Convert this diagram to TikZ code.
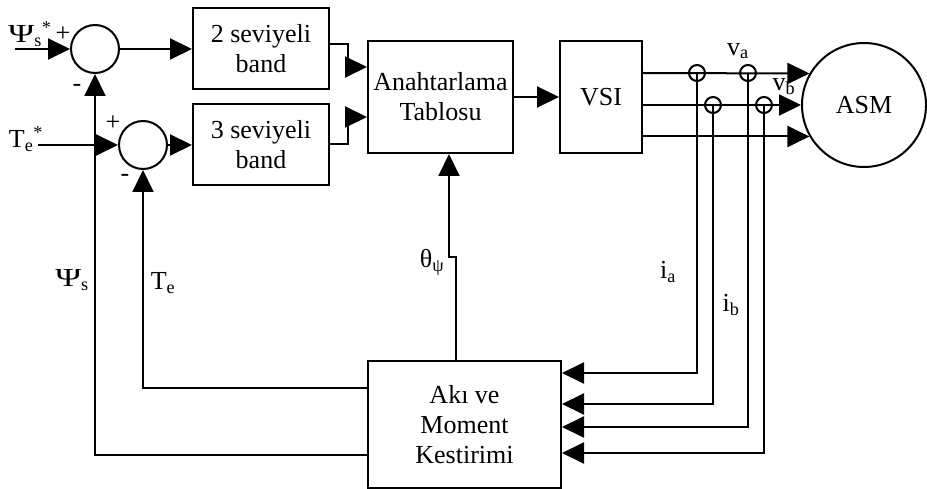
\documentclass[tikz,border=0pt]{standalone}
\usepackage{fontspec}
\setmainfont{Liberation Serif}
\usepackage{graphicx}
\usepackage{tikz}
\usetikzlibrary{positioning, arrows.meta}
\newcommand{\genispsi}{\scalebox{1.35}[1]{Ψ}}
\tikzset{
    blok/.style={draw, line width=2pt, align=center, inner sep=0pt, minimum width=136pt, minimum height=81pt},
    toplam/.style={circle, draw, line width=2pt, inner sep=0pt, minimum size=48pt},
    sensor/.style={circle, draw, line width=2pt, inner sep=0pt, minimum size=16pt},
    motor/.style={circle, draw, line width=2pt, inner sep=0pt, minimum size=124pt},
    hat/.style={line width=2pt},
    ok/.style={hat, -{Triangle[length=22pt, width=21pt]}},
    etiket/.style={inner sep=0pt}
}

\begin{document}
\begin{tikzpicture}[x=1pt, y=-1pt, font=\fontsize{26}{30}\selectfont]
    \useasboundingbox (0,0) rectangle (927,489);
    \node[toplam] (top1) at (95,49) {};
    \node[toplam] (top2) at (143,145) {};
    \node[blok] (band2) at (261,48.5) {2 seviyeli\\band};
    \node[blok] (band3) at (261,145) {3 seviyeli\\band};
    \node[blok, minimum width=145pt, minimum height=112pt] (tablo) at (440.5,97) {Anahtarlama\\Tablosu};
    \node[blok, minimum width=82pt, minimum height=112pt] (vsi) at (601,97) {VSI};
    \node[motor] (asm) at (864,105) {ASM};
    \node[blok, minimum width=193pt, minimum height=127pt] (aki) at (464.5,424.5) {Akı ve\\Moment\\Kestirimi};
    \node[sensor] (sa1) at (697,73) {};
    \node[sensor] (sa2) at (748,73) {};
    \node[sensor] (sb1) at (713,105) {};
    \node[sensor] (sb2) at (764,105) {};

    \coordinate (giris1) at (15,49);
    \coordinate (giris2) at (38,145);
    \coordinate (kirik1) at (348,44.5);
    \coordinate (kirik2) at (348,144);
    \coordinate (aci1) at (456,257);
    \coordinate (aci2) at (449,257);
    \coordinate (geri1) at (95,455);
    \coordinate (geri2) at (143,388);

    \node[etiket] (psiref) at (30,34) {\genispsi\textsubscript{s}\textsuperscript{*}};
    \node[etiket] (teref) at (26,139) {T\textsubscript{e}\textsuperscript{*}};
    \node[etiket] (arti1) at (63,34) {+};
    \node[etiket] (eksi1) at (77,88) {-};
    \node[etiket] (arti2) at (113,123) {+};
    \node[etiket] (eksi2) at (125,178) {-};
    \node[etiket] (psi) at (72,280) {\genispsi\textsubscript{s}};
    \node[etiket] (te) at (163,283) {T\textsubscript{e}};
    \node[etiket] (teta) at (432,262) {θ\textsubscript{ψ}};
    \node[etiket] (ia) at (668,272) {i\textsubscript{a}};
    \node[etiket] (ib) at (731,305) {i\textsubscript{b}};
    \node[etiket] (va) at (738,51) {v\textsubscript{a}};
    \node[etiket] (vb) at (784,87) {v\textsubscript{b}};

    \draw[ok] (giris1) -- (top1.west);
    \draw[ok] (giris2) -- (top2.west);
    \draw[ok] (top1.east) -- (band2.west |- top1);
    \draw[ok] (top2.east) -- (band3.west |- top2);
    \draw[ok] (band2.east |- kirik1) -- (kirik1) -- ++(0,22.5) -- ([yshift=30pt]tablo.west);
    \draw[ok] (band3.east |- kirik2) -- (kirik2) -- ++(0,-27) -- ([yshift=-20pt]tablo.west);
    \draw[ok] (tablo.east) -- (vsi.west);
    \draw[ok] (vsi.east |- sa1) -- (asm.150);
    \draw[ok] (vsi.east |- sb1) -- (asm.west);
    \draw[ok] (vsi.east |- asm.210) -- (asm.210);
    \draw[ok] (aki.north -| aci1) -- (aci1) -- (aci2) -- (tablo.south -| aci2);
    \draw[ok] (aki.west |- geri1) -- (geri1) -- (top1.south);
    \draw[ok] (aki.west |- geri2) -- (geri2) -- (top2.south);
    \draw[ok] (sa1.center) -- (sa1 |- 0,373) -- (aki.east |- 0,373);
    \draw[ok] (sb1.center) -- (sb1 |- 0,404) -- (aki.east |- 0,404);
    \draw[ok] (sa2.center) -- (sa2 |- 0,427) -- (aki.east |- 0,427);
    \draw[ok] (sb2.center) -- (sb2 |- 0,453) -- (aki.east |- 0,453);
\end{tikzpicture}
\end{document}
